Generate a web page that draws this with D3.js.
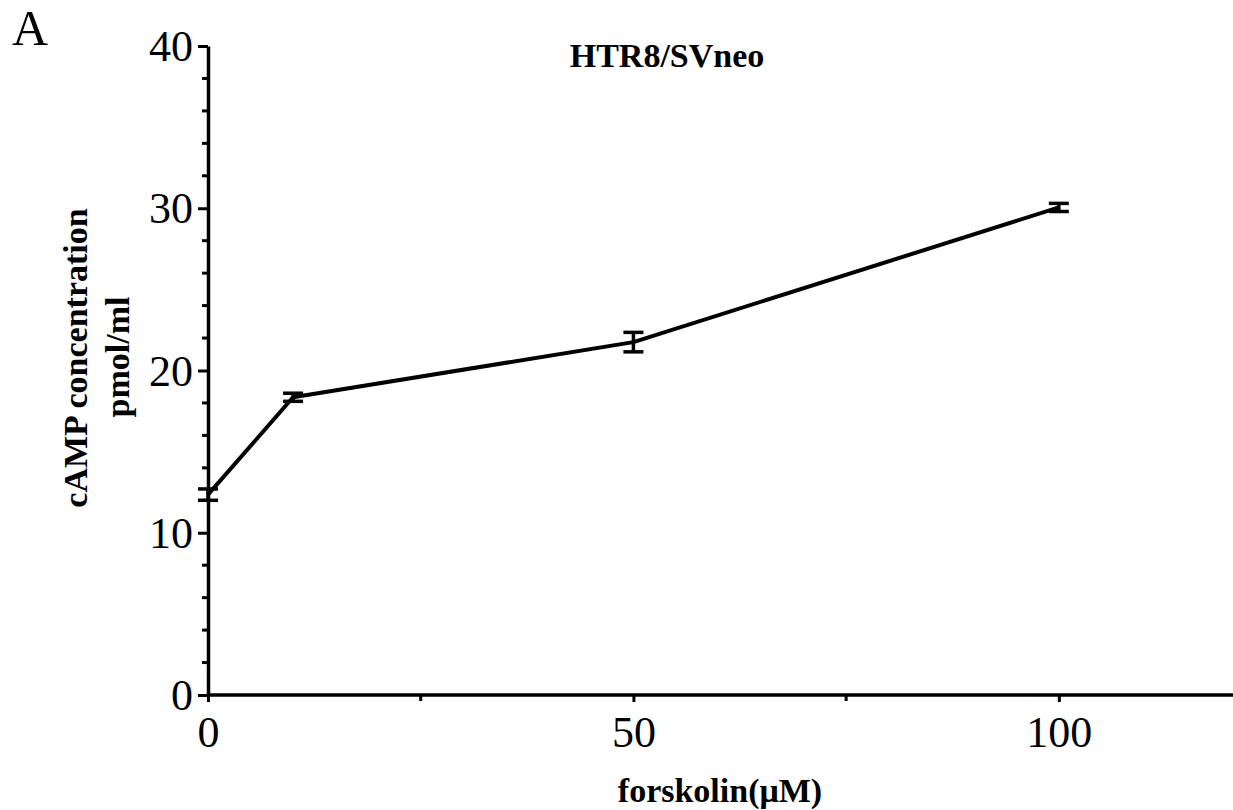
<!DOCTYPE html>
<html>
<head>
<meta charset="utf-8">
<script src="https://cdn.jsdelivr.net/npm/d3@7"></script>
<style>
  body { margin: 0; background: #fff; }
  svg { display: block; }
  text { font-family: "Liberation Serif", "Times New Roman", serif; fill: #000; }
</style>
</head>
<body>
<svg></svg>
<script>
const width = 1233;
const height = 810;

// data
const doses = [0, 10, 50, 100];          // forskolin (µM)
const camp = [12.35, 18.35, 21.75, 30.05]; // mean cAMP pmol/ml
const sem = [0.35, 0.25, 0.6, 0.25];
const xMajorTicks = [0, 50, 100];
const xMinorTicks = [25, 75];
const yMajorTicks = [0, 10, 20, 30, 40];
const yMinorTicks = d3.range(0, 41, 2).filter(v => v % 10 !== 0);

const svg = d3.select("svg").attr("width", width).attr("height", height);

const x = d3.scaleLinear().domain([0, 120]).range([208, 1229]);
const y = d3.scaleLinear().domain([0, 40]).range([695, 46]);

// y axis
const yAxis = svg.append("g").attr("transform", `translate(${x(0)},0)`);
yAxis.call(d3.axisLeft(y).tickValues(yMajorTicks).tickSize(10).tickPadding(5).tickSizeOuter(0));
yAxis.select(".domain").attr("stroke-width", 3.5);
yAxis.selectAll(".tick line").attr("stroke-width", 3);
yAxis.selectAll(".tick text").style("font-size", "44px").attr("dy", "0.33em");
yAxis.selectAll(".minor")
	.data(yMinorTicks)
	.enter().append("line")
	.attr("x1", -6).attr("x2", 0)
	.attr("y1", d => y(d)).attr("y2", d => y(d))
	.attr("stroke", "#000").attr("stroke-width", 3);

// x axis
const xAxis = svg.append("g").attr("transform", `translate(0,${y(0)})`);
xAxis.call(d3.axisBottom(x).tickValues(xMajorTicks).tickSize(7).tickPadding(14).tickSizeOuter(0));
xAxis.select(".domain").attr("stroke-width", 3.5).attr("d", `M${x(0)},0H${width}`);
xAxis.selectAll(".tick line").attr("stroke-width", 3);
xAxis.selectAll(".tick text").style("font-size", "44px");
xAxis.selectAll(".minor")
	.data(xMinorTicks)
	.enter().append("line")
	.attr("x1", d => x(d)).attr("x2", d => x(d))
	.attr("y1", 0).attr("y2", 6)
	.attr("stroke", "#000").attr("stroke-width", 3);

// line
const pts = doses.map((d, i) => ({ x: d, y: camp[i], e: sem[i] }));
const line = d3.line().x(d => x(d.x)).y(d => y(d.y));
svg.append("path")
	.attr("d", line(pts))
	.attr("fill", "none")
	.attr("stroke", "#000")
	.attr("stroke-width", 4)
	.attr("stroke-linejoin", "round");

// error bars
const err = svg.append("g").attr("stroke", "#000").attr("stroke-width", 3.5);
pts.forEach(p => {
	const cx = x(p.x);
	err.append("line").attr("x1", cx).attr("x2", cx).attr("y1", y(p.y - p.e)).attr("y2", y(p.y + p.e));
	err.append("line").attr("x1", cx - 10).attr("x2", cx + 10).attr("y1", y(p.y + p.e)).attr("y2", y(p.y + p.e));
	err.append("line").attr("x1", cx - 10).attr("x2", cx + 10).attr("y1", y(p.y - p.e)).attr("y2", y(p.y - p.e));
});

// titles
svg.append("text").attr("x", 12).attr("y", 45).style("font-size", "50px").text("A");

svg.append("text").attr("x", 667).attr("y", 67)
	.attr("text-anchor", "middle").style("font-size", "34px").style("font-weight", "bold")
	.text("HTR8/SVneo");

svg.append("text").attr("x", 720).attr("y", 802)
	.attr("text-anchor", "middle").style("font-size", "34px").style("font-weight", "bold")
	.text("forskolin(μM)");

svg.append("text")
	.attr("transform", "translate(87,358) rotate(-90)")
	.attr("text-anchor", "middle").style("font-size", "34px").style("font-weight", "bold")
	.text("cAMP concentration");

svg.append("text")
	.attr("transform", "translate(129,357) rotate(-90)")
	.attr("text-anchor", "middle").style("font-size", "34px").style("font-weight", "bold")
	.text("pmol/ml");
</script>
</body>
</html>
